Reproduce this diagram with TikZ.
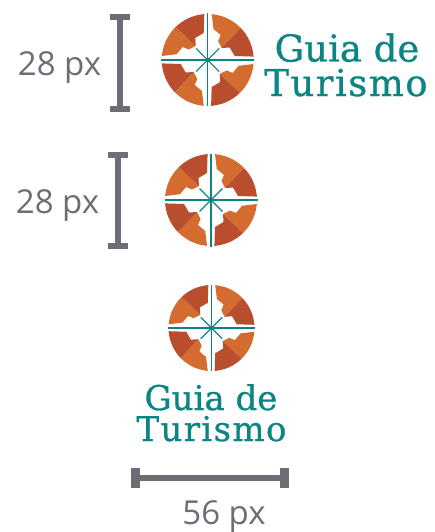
\documentclass[tikz,border=0pt]{standalone}
\usepackage{fontspec}
\setmainfont{Open Sans}
\newfontfamily\brandfont[FakeBold=0.8]{DejaVu Serif}
\definecolor{dimgrey}{HTML}{6D6E75}
\definecolor{brandteal}{HTML}{0B8582}
\definecolor{petalorange}{HTML}{D46B2F}
\definecolor{petalred}{HTML}{B94E2F}
\newcommand{\brandtext}[2]{{\brandfont\addfontfeature{LetterSpace=#1}#2}}
\newcommand{\compassmark}[3]{%
  \begin{scope}[shift={(#1,#2)},scale=#3]
    \begin{scope}
      \clip (0,0) circle (46);
      \foreach \a in {0,90,180,270}{
        \begin{scope}[rotate=\a]
          \fill[petalorange] (4,-70) -- (4,-45.8) -- (5.8,-31) -- (13,-25) -- (10.5,-19) -- (14,-12) -- (33,-32) -- (60,-58) -- cycle;
          \fill[petalred] (60,-58) -- (33,-32) -- (14,-12) -- (22,-12.5) -- (27,-4) -- (46,-3.4) -- (70,-3.4) -- cycle;
        \end{scope}
      }
    \end{scope}
    \draw[brandteal,line width=1.5pt] (-46.5,0) -- (46.5,0);
    \draw[brandteal,line width=1.5pt] (0,-46.5) -- (0,46.5);
    \draw[brandteal,line width=1.1pt] (-11.5,-11.5) -- (11.5,11.5);
    \draw[brandteal,line width=1.1pt] (-11.5,11.5) -- (11.5,-11.5);
    \fill[brandteal] (0,0) circle (2.4);
  \end{scope}}
\tikzset{
  x=1pt,y=-1pt,
  dimlabel/.style={text=dimgrey,font=\fontsize{33}{33}\selectfont,inner sep=0pt},
  dimbar/.style={draw=dimgrey,line width=6.5pt},
  dimcap/.style={fill=dimgrey},
  brandone/.style={text=brandteal,inner sep=0pt,anchor=base,font=\fontsize{37}{37}\selectfont},
  brandtwo/.style={text=brandteal,inner sep=0pt,anchor=base,font=\fontsize{34}{34}\selectfont}
}
\begin{document}
\begin{tikzpicture}
\useasboundingbox (0,0) rectangle (434,532);
% first row
\compassmark{207.7}{60}{1}
\node[brandone] (guiaA) at (347,61.5) {\brandtext{0}{Guia de}};
\node[brandone] (turA) at (346,96) {\brandtext{4}{Turismo}};
\coordinate (a1) at (120,17); \coordinate (a2) at (120,109);
\draw[dimbar] (a1) -- (a2);
\fill[dimcap] (110,14) rectangle (130,20);
\fill[dimcap] (110,106) rectangle (130,112);
\node[dimlabel] (la) at (59.5,68) {28 px};
% second row
\compassmark{211}{200}{1}
\coordinate (b1) at (118,155); \coordinate (b2) at (118,245);
\draw[dimbar] (b1) -- (b2);
\fill[dimcap] (108,152) rectangle (128,158);
\fill[dimcap] (108,243) rectangle (128,249);
\node[dimlabel] (lb) at (57.5,206) {28 px};
% third row
\compassmark{211.5}{328}{.935}
\node[brandtwo] (guiaB) at (211,410) {\brandtext{0}{Guia de}};
\node[brandtwo] (turB) at (211.5,441) {\brandtext{4}{Turismo}};
\coordinate (c1) at (135,478); \coordinate (c2) at (285,478);
\draw[dimbar] (c1) -- (c2);
\fill[dimcap] (131,468) rectangle (140,488);
\fill[dimcap] (280,468) rectangle (289,488);
\node[dimlabel] (lc) at (224,517) {56 px};
\end{tikzpicture}
\end{document}
